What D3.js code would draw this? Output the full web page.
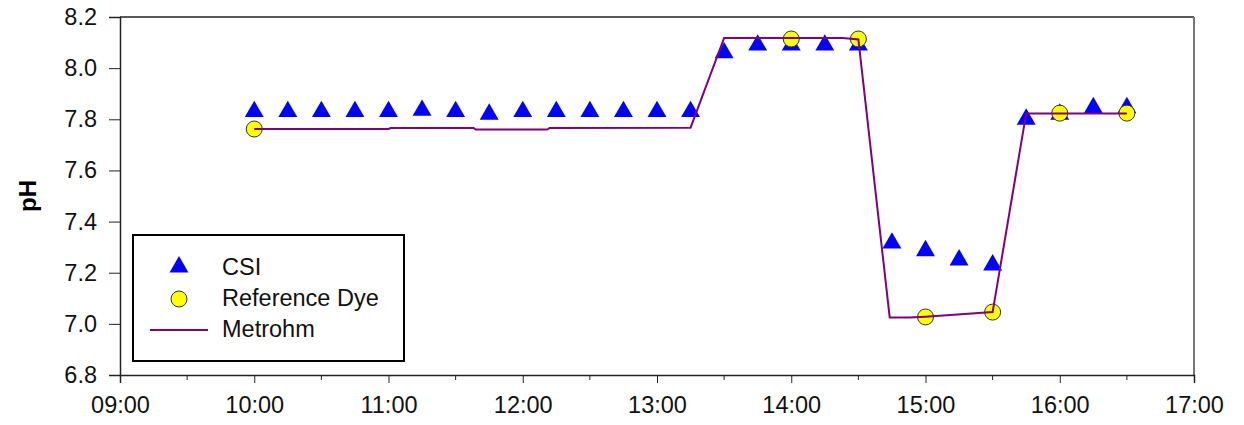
<!DOCTYPE html>
<html>
<head>
<meta charset="utf-8">
<script src="https://cdn.jsdelivr.net/npm/d3@7"></script>
<style>
  body { margin: 0; background: #fff; }
  text { font-family: Arial, "Liberation Sans", sans-serif; }
</style>
</head>
<body>
<div id="chart"></div>
<script>
// pH readings through the day
const csiTimes = ["10:00","10:15","10:30","10:45","11:00","11:15","11:30","11:45","12:00","12:15","12:30","12:45","13:00","13:15",
                  "13:30","13:45","14:00","14:15","14:30","14:45","15:00","15:15","15:30","15:45","16:00","16:15","16:30"];
const csiPH = [7.83,7.83,7.83,7.83,7.83,7.835,7.83,7.82,7.83,7.83,7.83,7.83,7.83,7.83,
               8.06,8.09,8.09,8.09,8.09,7.316,7.286,7.25,7.23,7.80,7.82,7.845,7.845];

const dyeTimes = ["10:00","14:00","14:30","15:00","15:30","16:00","16:30"];
const dyePH = [7.762,8.114,8.114,7.027,7.046,7.824,7.824];

const metrohmTimes = ["10:00","11:00","11:01","11:38","11:39","12:11","12:12","13:15","13:30","14:23","14:30",
                      "14:44","14:53","15:00","15:30","15:45","16:30"];
const metrohmPH = [7.762,7.762,7.766,7.766,7.760,7.760,7.766,7.767,8.118,8.118,8.112,
                   7.025,7.025,7.028,7.046,7.823,7.823];

const yTicks = [6.8,7.0,7.2,7.4,7.6,7.8,8.0,8.2];
const xTickHours = ["09:00","10:00","11:00","12:00","13:00","14:00","15:00","16:00","17:00"];

const width = 1244, height = 425;
const margin = {left: 120, right: 50, top: 17, bottom: 50};

const parseT = d3.timeParse("%H:%M");

const svg = d3.select("#chart").append("svg")
    .attr("width", width)
    .attr("height", height);

const x = d3.scaleTime()
    .domain([parseT("09:00"), parseT("17:00")])
    .range([margin.left, width - margin.right]);

const y = d3.scaleLinear()
    .domain([6.8, 8.2])
    .range([height - margin.bottom, margin.top]);

// frame: top and right edges
svg.append("line")
    .attr("x1", margin.left).attr("x2", width - margin.right)
    .attr("y1", y(8.2)).attr("y2", y(8.2))
    .attr("stroke", "#222").attr("stroke-width", 1.5);
svg.append("line")
    .attr("x1", width - margin.right).attr("x2", width - margin.right)
    .attr("y1", y(8.2)).attr("y2", y(6.8))
    .attr("stroke", "#777").attr("stroke-width", 2);

// y axis
const yAxis = svg.append("g")
    .attr("transform", `translate(${margin.left},0)`)
    .call(d3.axisLeft(y).tickValues(yTicks).tickFormat(d3.format(".1f")).tickSize(11).tickPadding(12));

// x axis, major hours + half hour minors
const xTicks = xTickHours.map(parseT);
const xAxis = svg.append("g")
    .attr("transform", `translate(0,${height - margin.bottom})`)
    .call(d3.axisBottom(x).tickValues(xTicks).tickFormat(d3.timeFormat("%H:%M")).tickSize(8).tickPadding(13));

const minorTicks = d3.timeMinute.every(30).range(parseT("09:00"), parseT("17:00"))
    .filter(d => d.getMinutes() === 30);
svg.append("g")
    .attr("transform", `translate(0,${height - margin.bottom})`)
    .selectAll("line")
    .data(minorTicks)
    .join("line")
    .attr("x1", d => x(d)).attr("x2", d => x(d))
    .attr("y1", 0).attr("y2", 5)
    .attr("stroke", "#222");

[yAxis, xAxis].forEach(g => {
    g.select(".domain").attr("stroke", "#222").attr("stroke-width", 1.5);
    g.selectAll(".tick line").attr("stroke", "#222");
    g.selectAll("text").attr("font-size", "23.5px").attr("fill", "#111")
        .attr("font-family", "Arial, 'Liberation Sans', sans-serif");
});

// y axis title
svg.append("text")
    .attr("transform", `translate(36,${y(7.5)}) rotate(-90)`)
    .attr("text-anchor", "middle")
    .attr("font-size", "24px")
    .attr("font-weight", "bold")
    .text("pH");

const triangle = d3.symbol().type(d3.symbolTriangle).size(155);

// CSI triangles
svg.append("g")
    .selectAll("path")
    .data(csiTimes.map((t, i) => [parseT(t), csiPH[i]]))
    .join("path")
    .attr("d", triangle)
    .attr("transform", d => `translate(${x(d[0])},${y(d[1])})`)
    .attr("fill", "#0000ff");

// reference dye circles
svg.append("g")
    .selectAll("circle")
    .data(dyeTimes.map((t, i) => [parseT(t), dyePH[i]]))
    .join("circle")
    .attr("cx", d => x(d[0]))
    .attr("cy", d => y(d[1]))
    .attr("r", 8)
    .attr("fill", "#ffff00")
    .attr("stroke", "#333")
    .attr("stroke-width", 1);

// Metrohm line
const line = d3.line()
    .x(d => x(d[0]))
    .y(d => y(d[1]));
svg.append("path")
    .datum(metrohmTimes.map((t, i) => [parseT(t), metrohmPH[i]]))
    .attr("d", line)
    .attr("fill", "none")
    .attr("stroke", "#800080")
    .attr("stroke-width", 2);

// legend
const legend = svg.append("g").attr("transform", "translate(133,235)");
legend.append("rect")
    .attr("width", 271).attr("height", 126)
    .attr("fill", "#fff")
    .attr("stroke", "#000").attr("stroke-width", 2);

legend.append("path")
    .attr("d", triangle)
    .attr("transform", "translate(46,32)")
    .attr("fill", "#0000ff");
legend.append("circle")
    .attr("cx", 46).attr("cy", 64).attr("r", 8)
    .attr("fill", "#ffff00").attr("stroke", "#333");
legend.append("line")
    .attr("x1", 17).attr("x2", 75).attr("y1", 95).attr("y2", 95)
    .attr("stroke", "#800080").attr("stroke-width", 2);

const legendNames = ["CSI", "Reference Dye", "Metrohm"];
legend.selectAll("text.lbl")
    .data(legendNames)
    .join("text")
    .attr("class", "lbl")
    .attr("x", 89)
    .attr("y", (d, i) => 40 + i * 31)
    .attr("font-size", "23.5px")
    .attr("fill", "#111")
    .text(d => d);
</script>
</body>
</html>
